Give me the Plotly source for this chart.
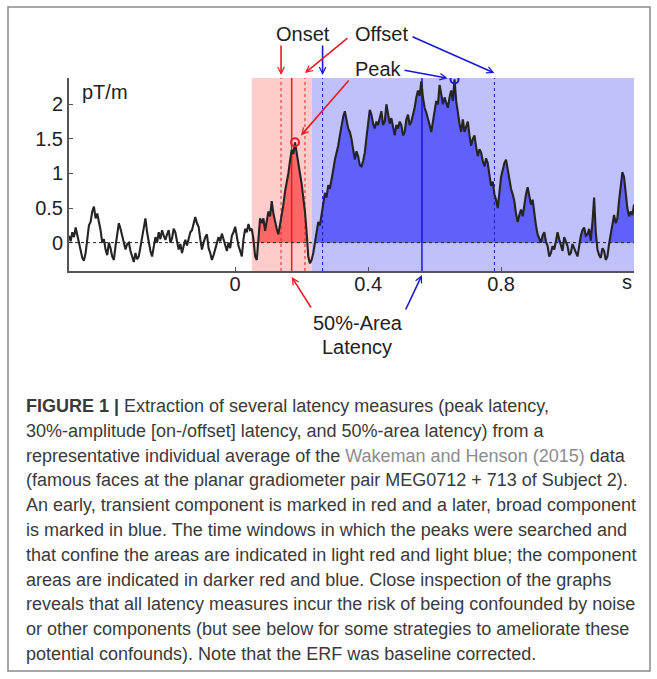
import numpy as np
import plotly.graph_objects as go

# ---------------- data (5 ms steps) ----------------
time_s = [round(-0.5 + 0.005 * i, 3) for i in range(341)]
erf_ptm = [
    0.10, 0.02, 0.15, 0.08, 0.22, 0.12, 0.02, -0.12, -0.22, -0.26, -0.15, 0.05, 0.25, 0.30, 0.45, 0.52, 0.35, 0.42, 0.30, 0.18,
    0.00, 0.05, -0.10, -0.18, 0.00, -0.08, -0.20, -0.25, -0.05, 0.10, 0.28, 0.20, 0.10, 0.02, -0.10, -0.02, 0.00, -0.12, -0.22, -0.28,
    -0.15, -0.24, -0.20, -0.05, 0.10, 0.20, 0.35, 0.15, 0.00, -0.12, -0.20, -0.05, 0.08, 0.00, 0.15, 0.05, 0.18, 0.10, 0.04, 0.12,
    0.18, 0.00, 0.06, 0.20, 0.15, 0.02, -0.10, -0.02, -0.15, -0.05, 0.04, -0.04, 0.08, 0.15, 0.18, 0.28, 0.37, 0.28, 0.23, 0.05,
    -0.10, 0.00, 0.08, 0.12, -0.08, -0.15, -0.25, -0.18, -0.10, -0.02, 0.08, 0.02, 0.13, 0.05, -0.05, -0.12, 0.00, -0.08, 0.10, 0.15,
    0.23, 0.10, -0.05, -0.12, -0.20, 0.05, 0.20, 0.15, 0.27, 0.18, 0.20, 0.05, -0.20, -0.25, 0.12, 0.35, 0.28, 0.35, 0.17, 0.30,
    0.45, 0.38, 0.60, 0.42, 0.30, 0.20, 0.12, 0.25, 0.40, 0.55, 0.74, 0.85, 1.00, 1.18, 1.34, 1.28, 1.45, 1.30, 1.12, 1.00,
    0.85, 0.65, 0.45, 0.15, -0.20, -0.30, -0.25, -0.15, 0.00, 0.18, 0.30, 0.25, 0.40, 0.58, 0.72, 0.65, 0.83, 0.78, 0.90, 1.05,
    1.20, 1.30, 1.40, 1.55, 1.70, 1.82, 1.90, 1.78, 1.65, 1.60, 1.50, 1.35, 1.20, 1.32, 1.25, 1.12, 1.10, 1.18, 1.30, 1.52,
    1.75, 1.92, 1.85, 1.72, 1.65, 1.75, 1.70, 1.82, 1.90, 1.70, 1.75, 2.00, 1.85, 1.72, 1.80, 1.65, 1.55, 1.70, 1.65, 1.75,
    1.70, 1.55, 1.60, 1.78, 1.85, 1.70, 1.75, 1.85, 1.95, 2.10, 2.20, 2.12, 2.33, 2.10, 1.95, 1.88, 1.80, 1.70, 1.60, 1.75,
    1.90, 2.05, 2.00, 2.28, 2.15, 2.00, 2.10, 2.02, 1.95, 2.10, 2.20, 2.05, 2.36, 2.05, 1.85, 1.72, 1.60, 1.78, 1.60, 1.68,
    1.75, 1.55, 1.40, 1.50, 1.55, 1.38, 1.25, 1.35, 1.30, 1.18, 1.10, 1.22, 1.15, 0.98, 0.82, 0.88, 0.70, 0.62, 0.50, 0.72,
    0.95, 1.05, 1.15, 1.20, 1.05, 0.90, 0.78, 0.70, 0.60, 0.42, 0.30, 0.40, 0.48, 0.38, 0.55, 0.70, 0.80, 0.65, 0.55, 0.62,
    0.40, 0.25, 0.12, 0.05, 0.00, 0.10, 0.15, 0.02, -0.05, -0.20, -0.15, -0.05, -0.10, 0.02, 0.15, 0.05, -0.02, -0.12, 0.08, 0.02,
    -0.05, -0.18, -0.15, -0.02, -0.08, -0.15, -0.20, -0.05, 0.10, 0.18, 0.22, 0.10, 0.12, 0.20, 0.03, 0.30, 0.65, 0.15, -0.10, -0.18,
    -0.22, -0.08, -0.12, -0.25, -0.20, -0.02, 0.12, 0.25, 0.40, 0.28, 0.35, 0.60, 0.85, 1.02, 0.95, 0.70, 0.50, 0.38, 0.45, 0.40,
    0.55,
]

red_window = [0.05, 0.23]
blue_window = [0.23, 1.20]
red_onset, red_offset, red_area50 = 0.138, 0.21, 0.17
blue_onset, blue_offset, blue_area50 = 0.263, 0.78, 0.562

x_ticks = [0, 0.4, 0.8]
x_tick_text = ["0", "0.4", "0.8"]
y_ticks = [0, 0.5, 1, 1.5, 2]
y_tick_text = ["0", "0.5", "1", "1.5", "2"]

caption_lines = [
    "<b>FIGURE 1 |</b> Extraction of several latency measures (peak latency,",
    "30%-amplitude [on-/offset] latency, and 50%-area latency) from a",
    "representative individual average of the <span style='color:#8c8c8c'>Wakeman and Henson (2015)</span> data",
    "(famous faces at the planar gradiometer pair MEG0712 + 713 of Subject 2).",
    "An early, transient component is marked in red and a later, broad component",
    "is marked in blue. The time windows in which the peaks were searched and",
    "that confine the areas are indicated in light red and light blue; the component",
    "areas are indicated in darker red and blue. Close inspection of the graphs",
    "reveals that all latency measures incur the risk of being confounded by noise",
    "or other components (but see below for some strategies to ameliorate these",
    "potential confounds). Note that the ERF was baseline corrected.",
]

# ---------------- layout geometry ----------------
W, H = 657, 679
L, R, T, B = 69, 23, 78, 408
PW, PH = W - L - R, H - T - B
XR = [-0.5, 1.2]
YR = [-0.41, 2.38]


def xp(px):
    return (px - L) / PW


def yp(py):
    return (H - B - py) / PH


def dx(px):
    return XR[0] + (px - L) / PW * (XR[1] - XR[0])


def dy(py):
    return YR[0] + (H - B - py) / PH * (YR[1] - YR[0])


def px_of(x):
    return L + (x - XR[0]) / (XR[1] - XR[0]) * PW


t = np.array(time_s)
v = np.array(erf_ptm)


def positive_part(a, b):
    tt = sorted(set([a, b] + [ti for ti in time_s if a < ti < b]))
    vv = np.interp(tt, t, v)
    xs, ys = [tt[0]], [vv[0]]
    for i in range(1, len(tt)):
        if (vv[i - 1] > 0) != (vv[i] > 0):
            tc = tt[i - 1] + (tt[i] - tt[i - 1]) * vv[i - 1] / (vv[i - 1] - vv[i])
            xs.append(tc)
            ys.append(0.0)
        xs.append(tt[i])
        ys.append(vv[i])
    return xs, list(np.maximum(ys, 0))


def peak_in(a, b):
    m = (t >= a) & (t <= b)
    i = np.argmax(np.where(m, v, -np.inf))
    return t[i], v[i]


red_peak_t, red_peak_v = peak_in(*red_window)
blue_peak_t, blue_peak_v = peak_in(*blue_window)

RED = "rgb(232,28,36)"
BLUE = "rgb(24,24,210)"
FONT = "Liberation Sans, Arial, sans-serif"

fig = go.Figure()

# component areas
for win, col in [(red_window, "rgb(255,102,102)"), (blue_window, "rgb(96,96,250)")]:
    fx, fy = positive_part(*win)
    fig.add_trace(go.Scatter(x=fx, y=fy, mode="none", fill="tozeroy",
                             fillcolor=col, hoverinfo="skip"))

# latency lines
for xv, col, dash, wd in [
    (red_onset, RED, "dot", 1), (red_offset, RED, "dot", 1), (red_area50, RED, "solid", 1.5),
    (blue_onset, BLUE, "dot", 1), (blue_offset, BLUE, "dot", 1), (blue_area50, BLUE, "solid", 1.5),
]:
    fig.add_trace(go.Scatter(x=[xv, xv], y=YR, mode="lines",
                             line=dict(color=col, width=wd, dash=dash), hoverinfo="skip"))

# ERF curve
fig.add_trace(go.Scatter(x=time_s, y=erf_ptm, mode="lines",
                         line=dict(color="#242424", width=2.1)))

# peak markers
fig.add_trace(go.Scatter(x=[red_peak_t], y=[red_peak_v], mode="markers",
                         marker=dict(symbol="circle-open", size=8, color=RED, line=dict(width=2))))
fig.add_trace(go.Scatter(x=[blue_peak_t], y=[blue_peak_v], mode="markers",
                         marker=dict(symbol="circle-open", size=8, color=BLUE, line=dict(width=2))))

shapes = [
    dict(type="rect", xref="x", yref="paper", x0=red_window[0], x1=red_window[1], y0=0, y1=1,
         fillcolor="rgb(255,204,204)", line=dict(width=0), layer="below"),
    dict(type="rect", xref="x", yref="paper", x0=blue_window[0], x1=blue_window[1], y0=0, y1=1,
         fillcolor="rgb(192,192,250)", line=dict(width=0), layer="below"),
    dict(type="line", xref="paper", yref="y", x0=0, x1=1, y0=0, y1=0,
         line=dict(color="#222", width=1, dash="dot"), layer="above"),
    dict(type="rect", xref="paper", yref="paper", x0=xp(8), x1=xp(650), y0=yp(671), y1=yp(7),
         line=dict(color="#8a8a8a", width=1.5)),
]

annotations = []


def label(text, px, py, xanchor="center", size=20):
    annotations.append(dict(text=text, xref="paper", yref="paper", x=xp(px), y=yp(py),
                            xanchor=xanchor, yanchor="middle", showarrow=False,
                            font=dict(family=FONT, size=size, color="#222")))


ARROW = dict(showarrow=True, arrowhead=5, arrowsize=0.8, arrowwidth=1.6, text="")


def arrow_px(tip_x, tip_py, tail_px, tail_py, col):
    # tip at data x, pixel y; tail given in pixels
    annotations.append(dict(x=tip_x, xref="x", y=yp(tip_py), yref="paper",
                            ax=tail_px - px_of(tip_x), ay=tail_py - tip_py,
                            axref="pixel", ayref="pixel", arrowcolor=col, **ARROW))


def arrow_data(tip_x, tip_y, tail_px, tail_py, col, standoff):
    annotations.append(dict(x=tip_x, y=tip_y, xref="x", yref="y",
                            ax=dx(tail_px), ay=dy(tail_py), axref="x", ayref="y",
                            arrowcolor=col, standoff=standoff, **ARROW))


label("Onset", 302.5, 34)
label("Offset", 381.5, 34)
label("Peak", 378, 69)
label("50%-Area", 358, 323)
label("Latency", 357, 347)
label("pT/m", 80, 92, xanchor="left")
label("s", 634, 282, xanchor="right")

arrow_px(red_onset, 75, px_of(red_onset), 44, RED)
arrow_px(blue_onset, 75, px_of(blue_onset), 44, BLUE)
arrow_px(red_offset, 73, 349, 37, RED)
arrow_px(blue_offset, 73, 411, 36, BLUE)
arrow_data(red_peak_t, red_peak_v, 350, 79, RED, 9)
arrow_data(blue_peak_t, blue_peak_v, 403, 70, BLUE, 7)
arrow_px(red_area50, 277, 312, 309, RED)
arrow_px(blue_area50, 275, 405, 311, BLUE)

for i, line in enumerate(caption_lines):
    annotations.append(dict(text=line, xref="paper", yref="paper", x=xp(24), y=yp(406 + 24.8 * i),
                            xanchor="left", yanchor="middle", showarrow=False, align="left",
                            font=dict(family=FONT, size=18, color="#3a3a3a")))

axis_common = dict(showline=True, linecolor="#555", linewidth=2, ticks="inside", ticklen=4,
                   tickcolor="#555", showgrid=False, zeroline=False,
                   tickfont=dict(family=FONT, size=20, color="#222"))

fig.update_layout(
    width=W, height=H,
    margin=dict(l=L, r=R, t=T, b=B),
    paper_bgcolor="white", plot_bgcolor="white",
    showlegend=False,
    xaxis=dict(range=XR, tickvals=x_ticks, ticktext=x_tick_text, ticklabelstandoff=-6, **axis_common),
    yaxis=dict(range=YR, tickvals=y_ticks, ticktext=y_tick_text, **axis_common),
    shapes=shapes,
    annotations=annotations,
)

fig.write_html("out.html", config={"displayModeBar": False, "staticPlot": True},
               post_script="document.body.style.margin='0px';document.body.style.overflow='hidden';")
